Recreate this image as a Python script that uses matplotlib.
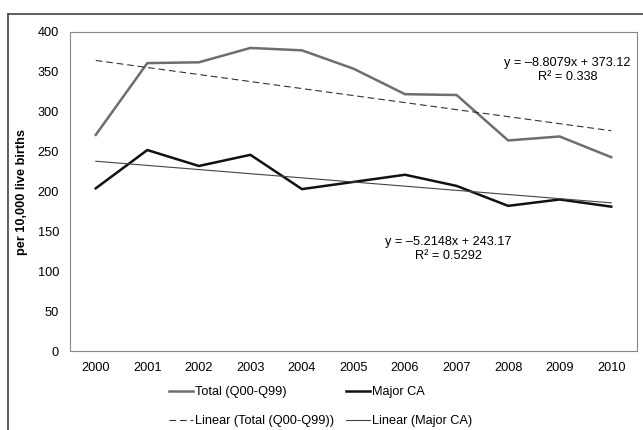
import numpy as np
import matplotlib
matplotlib.use('Agg')
import matplotlib.pyplot as plt
from matplotlib.lines import Line2D

# data
years = ['2000', '2001', '2002', '2003', '2004', '2005', '2006', '2007', '2008', '2009', '2010']
total = [271, 361, 362, 380, 377, 354, 322, 321, 264, 269, 243]
major_ca = [204, 252, 232, 246, 203, 212, 221, 207, 182, 190, 181]

# trend lines as printed on the chart
total_fit = (-8.8079, 373.12, 0.338)
major_fit = (-5.2148, 243.17, 0.5292)

plt.rcParams['font.family'] = ['Liberation Sans', 'DejaVu Sans']
plt.rcParams['font.size'] = 9.2

fig = plt.figure(figsize=(6.43, 4.30), dpi=100)
ax = fig.add_axes([70 / 643, 1 - 351 / 430, 567 / 643, 319 / 430])

x = np.arange(1, len(years) + 1)
h_tot, = ax.plot(x, total, color='#6e6e6e', lw=1.8, label='Total (Q00-Q99)')
h_maj, = ax.plot(x, major_ca, color='#111111', lw=1.8, label='Major CA')
h_ltot, = ax.plot(x, total_fit[0] * x + total_fit[1], color='#333333', lw=0.8,
                  ls=(0, (6, 3.5)), label='Linear (Total (Q00-Q99))')
h_lmaj, = ax.plot(x, major_fit[0] * x + major_fit[1], color='#444444', lw=0.8,
                  label='Linear (Major CA)')

ax.text(10.15, 352, 'y = \u20138.8079x + 373.12\nR\u00b2 = 0.338', ha='center',
        va='center', linespacing=1.2)
ax.text(7.84, 128, 'y = \u20135.2148x + 243.17\nR\u00b2 = 0.5292', ha='center',
        va='center', linespacing=1.2)

ax.set_xlim(0.5, 11.5)
ax.set_ylim(0, 400)
ax.set_yticks(range(0, 401, 50))
ax.set_xticks(x)
ax.set_xticklabels(years)
ax.tick_params(length=0)
ax.tick_params(axis='x', pad=8)
ax.tick_params(axis='y', pad=8)
for s in ax.spines.values():
    s.set_color('#888888')
    s.set_linewidth(0.8)
ax.set_ylabel('per 10,000 live births', fontweight='bold', labelpad=7)

# column-major fill: row 1 = Total, Major CA; row 2 = the two trend lines
fig.legend([h_tot, h_ltot, h_maj, h_lmaj],
           [h.get_label() for h in [h_tot, h_ltot, h_maj, h_lmaj]],
           loc='upper left', bbox_to_anchor=(169 / 643, 1 - 386 / 430), ncol=2,
           frameon=False, borderpad=0, borderaxespad=0, handlelength=1.9,
           handletextpad=0.15, columnspacing=0.9, labelspacing=1.35)

# outer frame (top and left only)
fig.add_artist(Line2D([8 / 643, 8 / 643], [0, 1 - 14 / 430], color='#444444', lw=1.2))
fig.add_artist(Line2D([8 / 643, 1], [1 - 14 / 430, 1 - 14 / 430], color='#444444', lw=1.2))

fig.savefig('out.png', dpi=100)
